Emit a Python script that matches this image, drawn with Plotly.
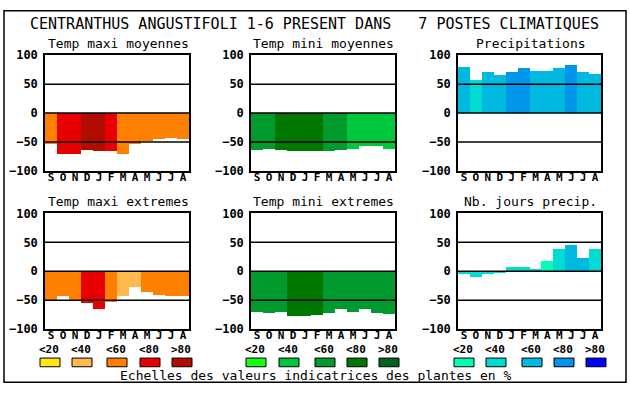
import plotly.graph_objects as go

W, H = 630, 394

months = ["S", "O", "N", "D", "J", "F", "M", "A", "M", "J", "J", "A"]
main_title = "CENTRANTHUS ANGUSTIFOLI 1-6 PRESENT DANS   7 POSTES CLIMATIQUES"
panel_titles = ["Temp maxi moyennes", "Temp mini moyennes", "Precipitations",
                "Temp maxi extremes", "Temp mini extremes", "Nb. jours precip."]

tmax_moy = [-54, -71, -71, -64, -66, -66, -71, -54, -48, -46, -43, -46]
tmax_moy_cls = [2, 3, 3, 4, 4, 3, 2, 2, 2, 2, 2, 2]
tmin_moy = [-64, -63, -64, -66, -66, -66, -66, -64, -63, -58, -58, -63]
tmin_moy_cls = [2, 2, 3, 3, 3, 3, 2, 2, 1, 1, 1, 1]
precip = [80, 57, 70, 65, 70, 77, 72, 73, 77, 82, 70, 67]
precip_cls = [2, 1, 2, 2, 3, 3, 2, 2, 2, 3, 2, 2]
tmax_ext = [-50, -43, -50, -56, -66, -54, -43, -28, -36, -41, -43, -44]
tmax_ext_cls = [2, 2, 2, 3, 3, 2, 1, 1, 2, 2, 2, 2]
tmin_ext = [-71, -73, -71, -78, -78, -76, -73, -66, -71, -66, -73, -74]
tmin_ext_cls = [2, 2, 2, 3, 3, 3, 2, 2, 2, 2, 2, 2]
jours = [-6, -11, -6, -4, 7, 7, 2, 17, 37, 45, 23, 37]
jours_cls = [1, 1, 1, 1, 1, 1, 1, 0, 1, 2, 2, 1]

reds = ["#FFE614", "#FFB84D", "#FF8000", "#E80000", "#B00C00"]
greens = ["#14FF14", "#00C83C", "#009A2E", "#007800", "#006420"]
blues = ["#00FFB4", "#00DCD2", "#00B9E1", "#0096EB", "#0000FF"]
scale_labels = ["<20", "<40", "<60", "<80", ">80"]
scale_title = "Echelles des valeurs indicatrices des plantes en %"
y_ticks = [-100, -50, 0, 50, 100]

panels = [
    (tmax_moy, tmax_moy_cls, reds),
    (tmin_moy, tmin_moy_cls, greens),
    (precip, precip_cls, blues),
    (tmax_ext, tmax_ext_cls, reds),
    (tmin_ext, tmin_ext_cls, greens),
    (jours, jours_cls, blues),
]

# layout geometry in pixels
col_x = [(45, 189), (251, 395), (458, 601)]
row_y = [(50, 170), (214, 334)]


def px(x):
    return x / W


def py(y):
    return 1 - y / H


MONO = "DejaVu Sans Mono"
fig = go.Figure()
shapes = []
annotations = []


def label(text, x, y, size, bold=False):
    f = dict(family=MONO, size=size, color="black")
    if bold:
        f["weight"] = "bold"
    annotations.append(dict(text=text, x=px(x), y=py(y), xref="paper", yref="paper",
                            xanchor="center", yanchor="middle", showarrow=False, font=f))


for i, (vals, cls, pal) in enumerate(panels):
    r, c = divmod(i, 3)
    n = i + 1
    xa = "x" if n == 1 else f"x{n}"
    ya = "y" if n == 1 else f"y{n}"
    fig.add_trace(go.Bar(
        x=list(range(len(months))), y=vals, base=0, width=1,
        marker=dict(color=[pal[k] for k in cls], line=dict(width=0)),
        xaxis=xa, yaxis=ya, showlegend=False, hoverinfo="y",
    ))
    x0, x1 = col_x[c]
    y0, y1 = row_y[r]
    axis_common = dict(showline=True, mirror=True, linecolor="black", linewidth=1.5,
                       showgrid=False, zeroline=False, layer="above traces",
                       fixedrange=True)
    fig.update_layout(**{
        ("xaxis" if n == 1 else f"xaxis{n}"): dict(
            domain=[px(x0), px(x1)], range=[-0.5, len(months) - 0.5],
            tickvals=list(range(len(months))), ticktext=months, ticks="",
            tickfont=dict(family=MONO, size=11, color="black", weight="bold"),
            ticklabelstandoff=-5, anchor=ya, **axis_common),
        ("yaxis" if n == 1 else f"yaxis{n}"): dict(
            domain=[py(y1), py(y0)], range=[-100, 100], tickvals=y_ticks, ticks="",
            tickfont=dict(family=MONO, size=12, color="black", weight="bold"),
            ticklabelstandoff=3, anchor=xa, **axis_common),
    })
    for g in (-50, 0, 50):
        shapes.append(dict(type="line", xref=f"{xa} domain", yref=ya, x0=0, x1=1,
                           y0=g, y1=g, line=dict(color="black", width=1.5), layer="above"))
    label(panel_titles[i], (x0 + x1) / 2 + 1, y0 - 12, 13)

# main title
label(main_title, 314, 18, 15)

# colour scales
box_x = [[40, 72, 107, 140, 172], [246, 279, 315, 347, 379], [454, 486, 522, 554, 586]]
for pal, xs in zip([reds, greens, blues], box_x):
    for k, bx in enumerate(xs):
        shapes.append(dict(type="rect", xref="paper", yref="paper",
                           x0=px(bx), x1=px(bx + 20), y0=py(373), y1=py(364),
                           fillcolor=pal[k], line=dict(color="black", width=1)))
        label(scale_labels[k], bx + 9, 355, 11, bold=True)
label(scale_title, 316, 382, 13)

# outer frame
shapes.append(dict(type="rect", xref="paper", yref="paper", x0=px(4), x1=px(626),
                   y0=py(389), y1=py(4), line=dict(color="black", width=1.5),
                   fillcolor="rgba(0,0,0,0)"))

fig.update_layout(width=W, height=H, margin=dict(l=0, r=0, t=0, b=0),
                  paper_bgcolor="white", plot_bgcolor="white", bargap=0,
                  shapes=shapes, annotations=annotations)

post = ("document.documentElement.style.margin='0';"
        "document.body.style.margin='0';document.body.style.padding='0';"
        "document.documentElement.style.overflow='hidden';document.body.style.overflow='hidden';"
        "var d=document.getElementById('{plot_id}');"
        "d.style.position='fixed';d.style.left='0px';d.style.top='0px';")

fig.write_html("out.html", config={"displayModeBar": False}, post_script=post)
